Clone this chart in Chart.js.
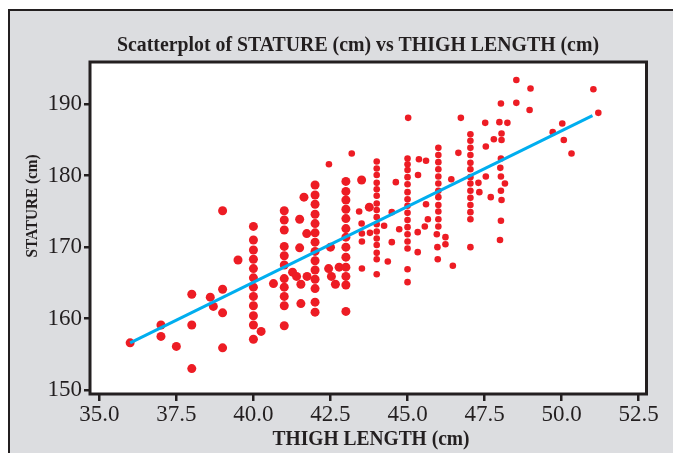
<!DOCTYPE html>
<html>
<head>
<meta charset="utf-8">
<script src="https://cdn.jsdelivr.net/npm/chart.js@4.4.1/dist/chart.umd.min.js"></script>
<style>
  html, body { margin: 0; padding: 0; background: #fff; }
  body { width: 673px; height: 453px; overflow: hidden; position: relative; }
  #panel { position: absolute; left: 8px; top: 9px; width: 700px; height: 500px; border: 2px solid #231f20; background: #dcdde0; }
  #wrap { position: absolute; left: 0; top: 0; width: 673px; height: 453px; }
</style>
</head>
<body>
<div id="panel"></div>
<div id="wrap"><canvas id="chart" width="673" height="453"></canvas></div>
<script>
const titleText = "Scatterplot of STATURE (cm) vs THIGH LENGTH (cm)";
const xTitleText = "THIGH LENGTH (cm)";
const yTitleText = "STATURE (cm)";

const xTicks = [35, 37.5, 40, 42.5, 45, 47.5, 50, 52.5];
const yTicks = [150, 160, 170, 180, 190];

// left part of the cloud (larger dots in the source)
const thighA = [
  36.0, 37.0, 37.0, 37.5, 38.0, 38.0, 38.0, 38.6, 38.7, 39.0, 39.0, 39.0, 39.0, 39.5,
  40, 40, 40, 40, 40, 40, 40, 40, 40, 40, 40, 40,
  40.25, 40.65,
  41, 41, 41, 41, 41, 41, 41, 41, 41, 41, 41,
  41.27, 41.4, 41.5, 41.5, 41.54, 41.54, 41.73, 41.74, 41.64,
  42, 42, 42, 42, 42, 42, 42, 42, 42, 42, 42, 42, 42, 42,
  42.44, 42.53, 42.66, 42.78, 42.5,
  43, 43, 43, 43, 43, 43, 43, 43, 43, 43, 43, 43, 43,
  43.51, 43.76
];
const statureA = [
  156.6, 159.1, 157.5, 156.1, 153.0, 163.4, 159.1, 163.0, 161.7, 164.1, 160.8, 155.9, 175.1, 168.2,
  172.9, 171.0, 169.6, 168.3, 167.0, 165.7, 164.4, 163.1, 161.8, 160.4, 159.1, 157.1,
  158.2, 164.9,
  175.1, 173.8, 172.4, 170.1, 168.8, 167.5, 165.6, 164.4, 163.1, 161.8, 159.0,
  166.5, 165.9, 173.9, 169.9, 164.8, 162.1, 171.9, 165.9, 177.0,
  178.7, 177.3, 176.0, 174.6, 173.3, 172.0, 170.7, 169.4, 168.1, 166.8, 165.5, 164.2, 162.3, 160.9,
  167.0, 165.9, 164.8, 167.2, 170.0,
  179.2, 177.8, 176.6, 175.3, 174.0, 172.6, 171.4, 170.0, 168.6, 167.2, 165.9, 164.7, 161.0,
  179.4, 175.6
];

// right part of the cloud (smaller dots in the source)
const thighB = [
  42.45, 43.19, 43.43, 43.51, 43.52, 43.52, 43.52, 43.78,
  44, 44, 44, 44, 44, 44, 44, 44, 44, 44, 44, 44, 44, 44, 44, 44,
  44.24, 44.49, 44.49, 44.36, 44.62, 44.73, 45.02,
  45, 45, 45, 45, 45, 45, 45, 45, 45, 45, 45, 45, 45, 45, 45, 45,
  45.37, 45.6, 45.34, 45.6, 45.66, 45.56, 45.33, 45.33,
  46, 46, 46, 46, 46, 46, 46, 46, 46, 46, 46, 46,
  45.95, 46.23, 46.23, 45.97, 45.98, 46.47, 46.42, 46.65, 46.73,
  47.04, 47.04, 47.04, 47.04, 47.04, 47.04, 47.04, 47.04, 47.04, 47.04, 47.04, 47.04, 47.04, 47.04,
  47.3, 47.33, 47.54, 47.54, 47.7, 47.52, 47.8, 47.98, 48.24, 48.05, 48.05, 48.03, 48.53, 48.96,
  48.03, 48.01, 48.03, 48.16, 48.03, 48.05, 48.03, 48.0,
  48.53, 48.99, 51.03, 51.19, 50.02, 49.71, 50.07, 50.32
];
const statureB = [
  181.6, 183.1, 175.0, 173.3, 171.9, 170.8, 167.0, 172.0,
  182.0, 181.0, 180.1, 179.0, 178.1, 177.2, 176.1, 175.2, 174.2, 173.2, 172.2, 171.2, 170.3, 169.2, 168.3, 166.2,
  173.0, 174.9, 170.7, 168.0, 179.1, 172.5, 188.1,
  182.4, 181.6, 180.8, 179.8, 178.8, 177.7, 176.7, 175.8, 174.8, 173.8, 172.8, 171.8, 170.8, 169.8, 166.9, 165.1,
  182.3, 182.1, 180.1, 176.0, 173.9, 172.9, 172.1, 169.3,
  183.9, 182.9, 181.9, 180.9, 179.9, 178.9, 177.9, 177.0, 175.9, 175.0, 173.9, 172.9,
  171.8, 171.4, 170.4, 170.0, 168.3, 167.4, 179.5, 183.2, 188.1,
  185.8, 184.9, 183.9, 182.9, 181.8, 180.9, 179.8, 178.9, 177.9, 176.9, 175.9, 174.9, 173.9, 170.0,
  179.0, 177.7, 179.9, 184.1, 177.0, 187.4, 185.1, 187.5, 187.4, 185.9, 185.0, 190.1, 190.2, 189.2,
  182.4, 181.1, 179.9, 178.9, 177.9, 176.6, 173.7, 171.0,
  193.4, 192.2, 192.1, 188.8, 187.3, 186.1, 185.0, 183.1
];

// fitted regression line ends
const fitThigh = [36.0, 51.0];
const fitStature = [156.6, 188.4];

const toPoints = (xs, ys) => xs.map((x, i) => ({ x: x, y: ys[i] }));

const ink = "#231f20";
const red = "rgb(237, 28, 36)";

function drawFitted(ctx, text, x, y, rot, font, width) {
  ctx.save();
  ctx.font = font;
  ctx.fillStyle = ink;
  ctx.textAlign = "center";
  ctx.textBaseline = "alphabetic";
  ctx.translate(x, y);
  ctx.rotate(rot);
  const w = ctx.measureText(text).width;
  ctx.scale(width / w, 1);
  ctx.fillText(text, 0, 0);
  ctx.restore();
}

const framePlugin = {
  id: "frame",
  beforeDraw(chart) {
    const a = chart.chartArea;
    const ctx = chart.ctx;
    ctx.save();
    ctx.fillStyle = "#ffffff";
    ctx.fillRect(a.left, a.top, a.right - a.left, a.bottom - a.top);
    ctx.restore();
  },
  afterDraw(chart) {
    const a = chart.chartArea;
    const ctx = chart.ctx;
    ctx.save();
    ctx.strokeStyle = ink;
    ctx.lineWidth = 3;
    ctx.strokeRect(a.left, a.top, a.right - a.left, a.bottom - a.top);
    ctx.restore();
    drawFitted(ctx, titleText, 358, 51.3, 0, 'bold 20px "Liberation Serif"', 482);
    drawFitted(ctx, xTitleText, 371, 445, 0, 'bold 22px "Liberation Serif"', 197);
    drawFitted(ctx, yTitleText, 37, 206, -Math.PI / 2, 'bold 17px "Liberation Serif"', 103);
  }
};

new Chart(document.getElementById("chart").getContext("2d"), {
  type: "scatter",
  data: {
    datasets: [
      {
        data: toPoints(fitThigh, fitStature),
        showLine: true,
        borderColor: "rgb(0, 174, 239)",
        borderWidth: 3,
        pointRadius: 0,
        order: 0
      },
      {
        data: toPoints(thighA, statureA),
        backgroundColor: red,
        borderWidth: 0,
        pointRadius: 4.5,
        order: 1
      },
      {
        data: toPoints(thighB, statureB),
        backgroundColor: red,
        borderWidth: 0,
        pointRadius: 3.3,
        order: 1
      }
    ]
  },
  options: {
    responsive: false,
    animation: false,
    devicePixelRatio: 1,
    layout: { padding: { top: 62, right: 26.5, left: 0, bottom: 0 } },
    plugins: { legend: { display: false }, tooltip: { enabled: false } },
    scales: {
      x: {
        type: "linear",
        min: 34.698,
        max: 52.753,
        afterBuildTicks: (s) => { s.ticks = xTicks.map((v) => ({ value: v })); },
        afterFit: (s) => { s.height = 59; },
        ticks: {
          callback: (v) => Number(v).toFixed(1),
          font: { family: "Liberation Serif", size: 23 },
          color: ink,
          padding: 0,
          maxRotation: 0,
          autoSkip: false
        },
        grid: { drawOnChartArea: false, tickLength: 7, color: ink, lineWidth: 2.5 },
        border: { display: false }
      },
      y: {
        type: "linear",
        min: 149.44,
        max: 195.92,
        afterBuildTicks: (s) => { s.ticks = yTicks.map((v) => ({ value: v })); },
        afterFit: (s) => { s.width = 90; },
        ticks: {
          callback: (v) => String(v),
          font: { family: "Liberation Serif", size: 23 },
          color: ink,
          padding: 2
        },
        grid: { drawOnChartArea: false, tickLength: 6, color: ink, lineWidth: 2.5 },
        border: { display: false }
      }
    }
  },
  plugins: [framePlugin]
});
</script>
</body>
</html>
